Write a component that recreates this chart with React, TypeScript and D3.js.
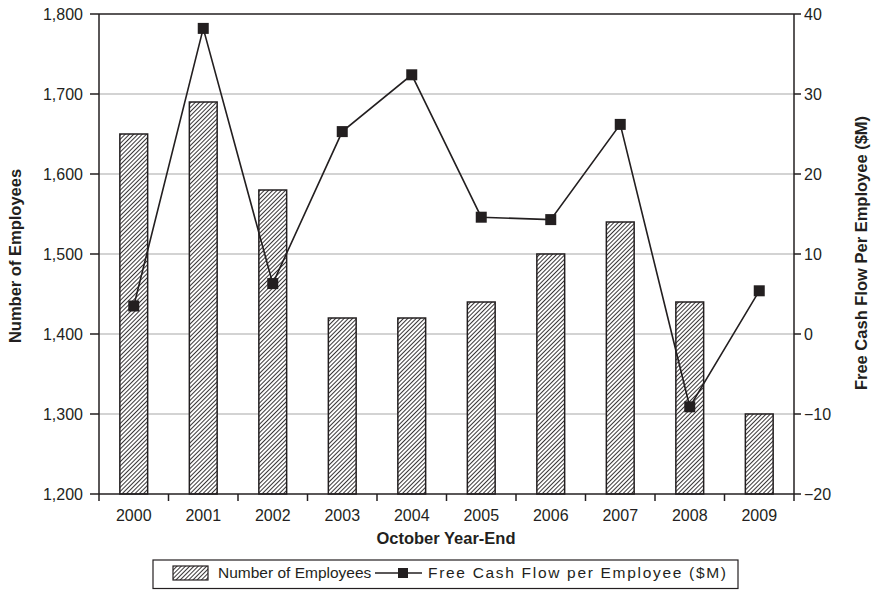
import React from "react";
import * as d3 from "d3";

const years = ["2000","2001","2002","2003","2004","2005","2006","2007","2008","2009"];
const employees = [1650,1690,1580,1420,1420,1440,1500,1540,1440,1300];
const fcfPerEmployee = [3.5,38.2,6.3,25.3,32.4,14.6,14.3,26.2,-9.1,5.4];
const leftTicks = [1200,1300,1400,1500,1600,1700,1800];
const rightTicks = [-20,-10,0,10,20,30,40];

const W = 876, H = 590;
const m = { left: 99, right: 794, top: 14, bottom: 494 };
const ink = "#231f20";
const font = "'Liberation Sans', Arial, Helvetica, sans-serif";

export default function App() {
  const x = d3.scaleBand<string>().domain(years).range([m.left, m.right]);
  const yL = d3.scaleLinear().domain([1200, 1800]).range([m.bottom, m.top]);
  const yR = d3.scaleLinear().domain([-20, 40]).range([m.bottom, m.top]);
  const bw = x.bandwidth() * 0.4;
  const cx = (y: string) => (x(y) as number) + x.bandwidth() / 2;
  const fmtL = d3.format(",");
  const fmtR = (v: number) => (v < 0 ? "\u2212" + Math.abs(v) : String(v));
  const line = d3.line<number>().x((_, i) => cx(years[i])).y((d) => yR(d));
  const ly = 573;

  return (
    <svg width={W} height={H} style={{ position: "absolute", left: 0, top: 0, background: "#fff" }} fontFamily={font}>
      <defs>
        <pattern id="hatch" patternUnits="userSpaceOnUse" width={3} height={3} patternTransform="rotate(45)">
          <rect width={3} height={3} fill="#fff" />
          <line x1={0.5} y1={0} x2={0.5} y2={3} stroke={ink} strokeWidth={0.9} />
        </pattern>
      </defs>
      {leftTicks.filter((t) => t > 1200 && t < 1800).map((t) => (
        <line key={t} x1={m.left} x2={m.right} y1={yL(t)} y2={yL(t)} stroke="#c4c4c4" strokeWidth={1.5} />
      ))}
      {employees.map((v, i) => (
        <rect key={years[i]} x={cx(years[i]) - bw / 2} y={yL(v)} width={bw} height={yL(1200) - yL(v)}
          fill="url(#hatch)" stroke={ink} strokeWidth={1.5} />
      ))}
      <line x1={m.left} x2={m.right} y1={m.top} y2={m.top} stroke={ink} strokeWidth={1.5} />
      <line x1={m.left} x2={m.right} y1={m.bottom} y2={m.bottom} stroke={ink} strokeWidth={1.5} />
      <line x1={m.left} x2={m.left} y1={m.top} y2={m.bottom} stroke={ink} strokeWidth={1.5} />
      <line x1={m.right} x2={m.right} y1={m.top} y2={m.bottom} stroke={ink} strokeWidth={1.5} />
      {leftTicks.map((t) => (
        <g key={t}>
          <line x1={m.left - 9} x2={m.left} y1={yL(t)} y2={yL(t)} stroke={ink} strokeWidth={1.5} />
          <text x={83} y={yL(t)} dy="0.36em" textAnchor="end" fontSize={16} fill={ink}>{fmtL(t)}</text>
        </g>
      ))}
      {rightTicks.map((t) => (
        <g key={t}>
          <line x1={m.right} x2={m.right + 7} y1={yR(t)} y2={yR(t)} stroke={ink} strokeWidth={1.5} />
          <text x={m.right + 10} y={yR(t)} dy="0.36em" textAnchor="start" fontSize={16} fill={ink}>{fmtR(t)}</text>
        </g>
      ))}
      {years.concat(["end"]).map((y, i) => {
        const xx = m.left + i * x.step();
        return <line key={"t" + i} x1={xx} x2={xx} y1={m.bottom} y2={m.bottom + 7} stroke={ink} strokeWidth={1.5} />;
      })}
      {years.map((y) => (
        <text key={y} x={cx(y)} y={521} textAnchor="middle" fontSize={16} fill={ink}>{y}</text>
      ))}
      <path d={line(fcfPerEmployee) || ""} fill="none" stroke={ink} strokeWidth={1.6} />
      {fcfPerEmployee.map((v, i) => (
        <rect key={"m" + i} x={cx(years[i]) - 5.5} y={yR(v) - 5.5} width={11} height={11} fill={ink} />
      ))}
      <text x={446} y={544} textAnchor="middle" fontSize={16.5} fontWeight="bold" fill={ink}>October Year-End</text>
      <text transform={`translate(21,256) rotate(-90)`} textAnchor="middle" fontSize={16.5} fontWeight="bold" fill={ink}>Number of Employees</text>
      <text transform={`translate(867,253) rotate(-90)`} textAnchor="middle" fontSize={16.5} fontWeight="bold" fill={ink}>Free Cash Flow Per Employee ($M)</text>
      <rect x={153} y={560} width={585} height={28.5} fill="none" stroke={ink} strokeWidth={1.2} />
      <rect x={173} y={ly - 7} width={35} height={14} fill="url(#hatch)" stroke={ink} strokeWidth={1.2} />
      <text x={218} y={ly} dy="0.35em" fontSize={15.5} fill={ink}>Number of Employees</text>
      <line x1={375} x2={422} y1={ly} y2={ly} stroke={ink} strokeWidth={1.6} />
      <rect x={398} y={ly - 5} width={10} height={10} fill={ink} />
      <text x={428} y={ly} dy="0.35em" fontSize={15.5} textLength={298} lengthAdjust="spacing" fill={ink}>Free Cash Flow per Employee ($M)</text>
    </svg>
  );
}
